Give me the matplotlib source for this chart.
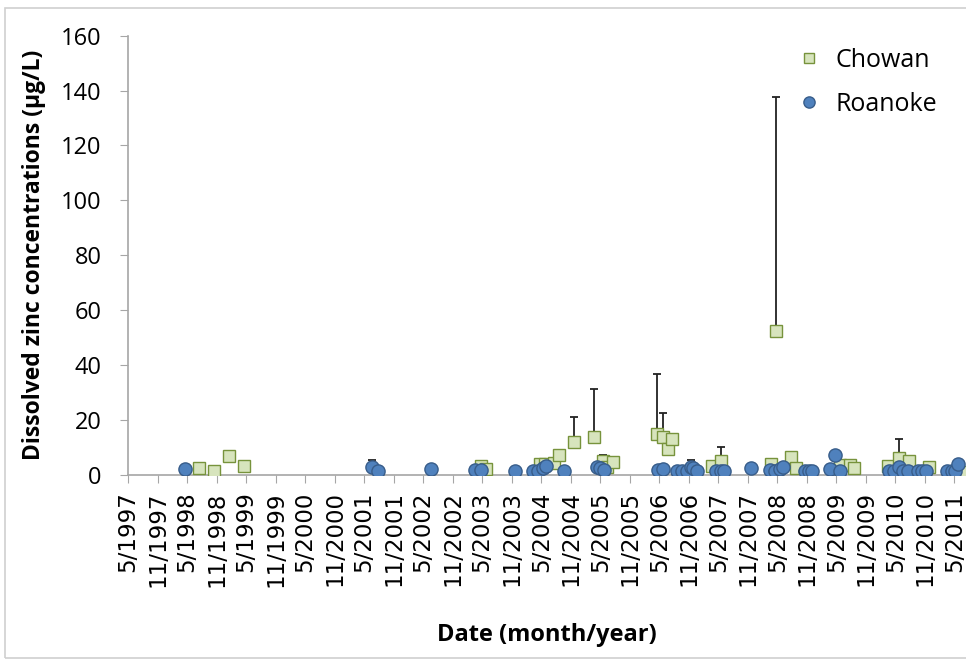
import matplotlib
matplotlib.use("Agg")
import matplotlib.pyplot as plt
import pandas as pd
from matplotlib.patches import Rectangle

# ---- data ----
chowan_dates = ["1998-07-15", "1998-10-14", "1999-01-13", "1999-04-18", "2003-04-23", "2003-05-24",
                "2004-04-22", "2004-05-23", "2004-07-18", "2004-08-18", "2004-11-19", "2005-03-23",
                "2005-05-19", "2005-06-13", "2005-07-20", "2006-04-18", "2006-05-22", "2006-06-21",
                "2006-07-20", "2007-03-21", "2007-05-17", "2008-03-22", "2008-04-22", "2008-07-23",
                "2008-08-22", "2009-05-23", "2009-07-24", "2009-08-19", "2010-03-18", "2010-05-23",
                "2010-07-26", "2010-11-24", "2011-06-21"]
chowan_values = [2.5, 1.4, 6.9, 3.1, 3.1, 1.9,
                 3.8, 3.8, 4.3, 7.0, 11.7, 13.6,
                 4.8, 2.8, 4.5, 14.6, 13.8, 9.2,
                 12.8, 3.1, 5.0, 3.8, 52.5, 6.2,
                 2.3, 3.5, 3.5, 2.3, 3.1, 6.1,
                 4.8, 2.6, 1.0]
chowan_upper_err = [0, 0, 0, 0, 0, 0,
                    0, 0, 0, 0, 9.1, 17.7,
                    2.2, 0, 0, 21.9, 8.6, 0,
                    0, 0, 5.1, 0, 85.3, 0,
                    0, 0, 0, 0, 0, 6.7,
                    0, 0, 0]

roanoke_dates = ["1998-04-17", "2001-06-16", "2001-07-23", "2002-06-16", "2003-03-17", "2003-04-21",
                 "2003-11-20", "2004-03-12", "2004-04-12", "2004-05-09", "2004-05-28", "2004-09-20",
                 "2005-04-08", "2005-04-29", "2005-05-23", "2006-04-24", "2006-05-22", "2006-08-16",
                 "2006-09-16", "2006-10-17", "2006-11-13", "2006-11-27", "2006-12-22", "2007-04-16",
                 "2007-05-15", "2007-06-07", "2007-11-19", "2008-03-16", "2008-04-15", "2008-05-16",
                 "2008-06-02", "2008-10-18", "2008-11-12", "2008-12-02", "2009-03-22", "2009-04-22",
                 "2009-05-23", "2010-03-24", "2010-04-24", "2010-05-23", "2010-06-18", "2010-07-16",
                 "2010-09-16", "2010-10-14", "2010-11-04", "2011-03-14", "2011-04-14", "2011-05-04",
                 "2011-05-25"]
roanoke_values = [1.9, 2.6, 1.2, 2.1, 1.6, 1.6,
                  1.3, 1.3, 1.3, 2.2, 3.0, 1.3,
                  2.7, 2.3, 1.8, 1.6, 1.9, 1.2,
                  1.2, 1.2, 2.6, 2.2, 1.2, 1.2,
                  1.2, 1.2, 2.3, 1.6, 1.2, 1.9,
                  2.6, 1.2, 1.2, 1.2, 1.9, 7.1,
                  1.2, 1.2, 1.2, 2.6, 1.2, 1.2,
                  1.2, 1.2, 1.2, 1.2, 1.2, 1.2,
                  3.8]
roanoke_upper_err = [0, 2.7, 0, 0, 0, 0,
                     0, 0, 0, 0, 0, 0,
                     0, 0, 0, 0, 0, 0,
                     0, 0, 2.7, 0, 0, 0,
                     0, 0, 0, 0, 0, 0,
                     0, 0, 0, 0, 0, 0,
                     0, 0, 0, 0, 0, 0,
                     0, 0, 0, 0, 0, 0,
                     0]

tick_dates = pd.date_range("1997-05-01", "2011-05-01", freq="6MS")
tick_labels = [f"{d.month}/{d.year}" for d in tick_dates]
y_ticks = [0, 20, 40, 60, 80, 100, 120, 140, 160]

# ---- figure ----
plt.rcParams['font.family'] = ['Open Sans', 'DejaVu Sans']
fig = plt.figure(figsize=(9.66, 6.62), dpi=100)
ax = fig.add_axes([128/966, (662-474.5)/662, 1 - 128/966, (474.5-35.7)/662])

cd = pd.to_datetime(chowan_dates)
rd = pd.to_datetime(roanoke_dates)

chowan_fill, chowan_edge = "#d7e4bd", "#77933c"
roanoke_fill, roanoke_edge = "#4f81bd", "#385d8a"

ax.errorbar(cd, chowan_values, yerr=[[0]*len(chowan_values), chowan_upper_err],
            fmt='none', ecolor='#222222', elinewidth=1.3, capsize=3, capthick=1.3, zorder=2)
ax.errorbar(rd, roanoke_values, yerr=[[0]*len(roanoke_values), roanoke_upper_err],
            fmt='none', ecolor='#222222', elinewidth=1.3, capsize=3, capthick=1.3, zorder=2)
ax.plot(cd, chowan_values, linestyle='none', marker='s', markersize=8.5,
        markerfacecolor=chowan_fill, markeredgecolor=chowan_edge, markeredgewidth=1.0,
        label='Chowan', zorder=3)
ax.plot(rd, roanoke_values, linestyle='none', marker='o', markersize=9.5,
        markerfacecolor=roanoke_fill, markeredgecolor=roanoke_edge, markeredgewidth=1.0,
        label='Roanoke', zorder=4)

x0 = pd.Timestamp("1997-05-01")
x1 = x0 + pd.Timedelta(days=(966 - 128.2) / 0.1616)
ax.set_xlim(x0, x1)
ax.set_ylim(0, 160)
ax.set_yticks(y_ticks)
ax.set_yticklabels([str(v) for v in y_ticks], fontsize=17)
ax.set_xticks(tick_dates)
ax.set_xticklabels(tick_labels, rotation=90, fontsize=16.5, family='DejaVu Sans')
ax.tick_params(axis='y', length=6, color='#a6a6a6', direction='out', pad=13)
ax.tick_params(axis='x', length=6, color='#a6a6a6', direction='out', pad=6)

for s in ['top', 'right']:
    ax.spines[s].set_visible(False)
for s in ['left', 'bottom']:
    ax.spines[s].set_color('#a6a6a6')
    ax.spines[s].set_linewidth(1.2)

ax.set_ylabel("Dissolved zinc concentrations (µg/L)", fontsize=16.5, fontweight='bold', labelpad=11)
ax.set_xlabel("Date (month/year)", fontsize=17, fontweight='bold', labelpad=26)

leg = ax.legend(loc='upper right', bbox_to_anchor=(0.98, 1.0), frameon=False, fontsize=18,
                handletextpad=0.05, labelspacing=0.75, borderaxespad=0.1, markerscale=0.85)

fig.patches.append(Rectangle((5/966, 4/662), 1.2, 1 - 12/662, transform=fig.transFigure,
                             fill=False, edgecolor='#d0d0d0', linewidth=1.2))

fig.savefig("out.png", dpi=100)
